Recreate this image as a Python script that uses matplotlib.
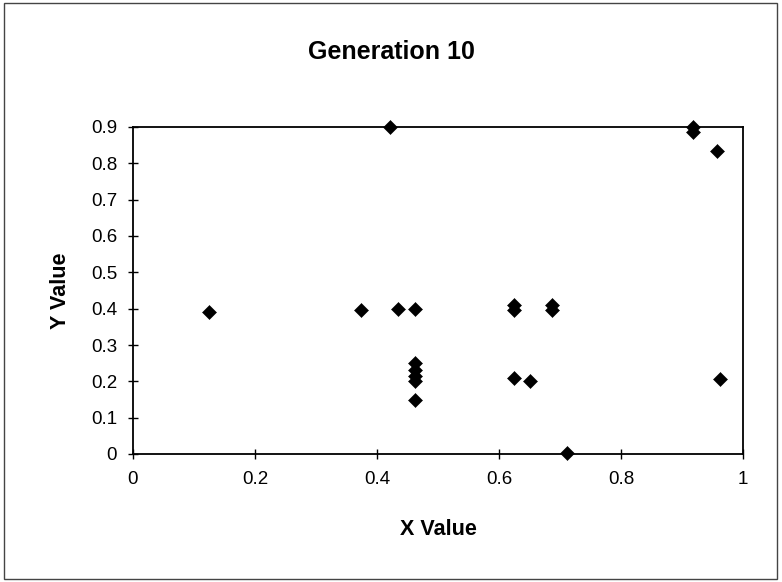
import matplotlib.pyplot as plt
from matplotlib.patches import Rectangle

plt.rcParams['font.family'] = ['Liberation Sans', 'DejaVu Sans']

# individuals of generation 10
x_vals = [0.125, 0.374, 0.421, 0.434, 0.462, 0.462, 0.462, 0.462, 0.462, 0.462,
          0.624, 0.624, 0.624, 0.650, 0.687, 0.687, 0.712, 0.918, 0.918, 0.957, 0.962]
y_vals = [0.39, 0.395, 0.90, 0.40, 0.40, 0.25, 0.23, 0.215, 0.20, 0.15,
          0.41, 0.395, 0.21, 0.20, 0.41, 0.395, 0.003, 0.90, 0.885, 0.835, 0.207]

x_ticks = [0, 0.2, 0.4, 0.6, 0.8, 1]
x_labels = ['0', '0.2', '0.4', '0.6', '0.8', '1']
y_ticks = [0, 0.1, 0.2, 0.3, 0.4, 0.5, 0.6, 0.7, 0.8, 0.9]
y_labels = ['0', '0.1', '0.2', '0.3', '0.4', '0.5', '0.6', '0.7', '0.8', '0.9']

fig = plt.figure(figsize=(7.82, 5.82), dpi=100)
ax = fig.add_axes([133 / 782, 1 - 454 / 582, 610 / 782, 327 / 582])

ax.plot(x_vals, y_vals, linestyle='none', marker='D', ms=7,
        mfc='black', mec='black', mew=0.4, clip_on=False)

ax.set_xlim(0, 1)
ax.set_ylim(0, 0.9)
ax.set_xticks(x_ticks)
ax.set_xticklabels(x_labels)
ax.set_yticks(y_ticks)
ax.set_yticklabels(y_labels)
ax.tick_params(direction='inout', length=7, width=1, labelsize=13.5)
ax.tick_params(axis='x', pad=9)
ax.tick_params(axis='y', pad=8)
for s in ax.spines.values():
    s.set_linewidth(1.3)

ax.set_xlabel('X Value', fontsize=15.5, fontweight='bold', labelpad=22)
ax.set_ylabel('Y Value', fontsize=15.5, fontweight='bold', labelpad=14)
fig.text(0.5, 1 - 52 / 582, 'Generation 10', ha='center', va='center',
         fontsize=18, fontweight='bold')

# chart border
fig.patches.append(Rectangle((4 / 782, 3 / 582), 773 / 782, 576 / 582,
                             transform=fig.transFigure, fill=False,
                             edgecolor='#444444', linewidth=1))

fig.savefig('out.png', dpi=100)
